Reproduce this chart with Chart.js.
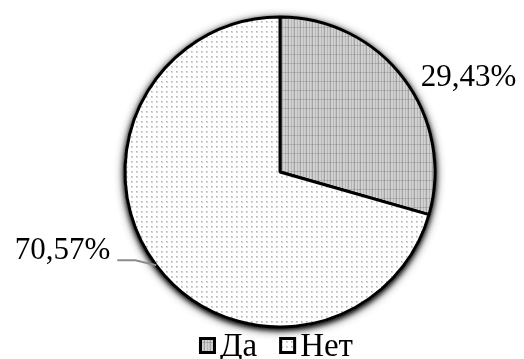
<!DOCTYPE html>
<html lang="ru">
<head>
<meta charset="utf-8">
<title>Да / Нет</title>
<script src="https://cdn.jsdelivr.net/npm/chart.js@4.4.1/dist/chart.umd.min.js"></script>
<style>
  html, body { margin: 0; padding: 0; background: #fff; }
  canvas { display: block; }
</style>
</head>
<body>
<canvas id="chart" width="524" height="359"></canvas>
<script>
// ── Données ──────────────────────────────────────────────────
const categories = ['Да', 'Нет'];
const shares     = [29.43, 70.57];

const FONT = '"Liberation Serif", "Times New Roman", serif';

// 29.43 -> "29,43%"
function fmt(v) {
  return v.toFixed(2).replace('.', ',') + '%';
}

const canvas = document.getElementById('chart');
const ctx    = canvas.getContext('2d');

// ── Motifs de remplissage (gris tramé / pointillé) ───────────
function motifDa() {
  const c = document.createElement('canvas');
  c.width = 6; c.height = 9;
  const g = c.getContext('2d');
  g.fillStyle = '#d2d2d2'; g.fillRect(0, 0, 6, 9);
  g.fillStyle = '#a4a4a4'; g.fillRect(0, 0, 1, 9);
  g.fillStyle = '#b6b6b6'; g.fillRect(3, 0, 1, 9);
  g.fillStyle = '#c4c4c4'; g.fillRect(5, 0, 1, 9);
  g.fillStyle = 'rgba(120,120,120,0.35)'; g.fillRect(0, 0, 6, 1);
  return ctx.createPattern(c, 'repeat');
}

function motifNet() {
  const c = document.createElement('canvas');
  c.width = 5; c.height = 5;
  const g = c.getContext('2d');
  g.fillStyle = '#ffffff'; g.fillRect(0, 0, 5, 5);
  g.fillStyle = '#d6d6d6'; g.fillRect(1, 1, 2, 2);
  g.fillStyle = '#b4b4b4'; g.fillRect(1, 1, 1, 1);
  return ctx.createPattern(c, 'repeat');
}

const fills = [motifDa(), motifNet()];

// ── Ombre portée autour du disque (deux passes pour la densité) ──
const ombre = {
  id: 'ombre',
  beforeDatasetsDraw(chart, args, opts) {
    const arc = chart.getDatasetMeta(0).data[0];
    if (!arc) return;
    const c = chart.ctx;
    c.save();
    c.shadowColor   = opts.color;
    c.shadowOffsetY = opts.offsetY;
    c.fillStyle = '#fff';
    opts.blurs.forEach(b => {
      c.shadowBlur = b;
      c.beginPath();
      c.arc(arc.x, arc.y, arc.outerRadius + 1, 0, Math.PI * 2);
      c.fill();
    });
    c.restore();
  }
};

// ── Étiquettes de pourcentage à l'extérieur ─────────────────
const etiquettes = {
  id: 'etiquettes',
  afterDatasetsDraw(chart, args, opts) {
    const c    = chart.ctx;
    const meta = chart.getDatasetMeta(0);
    c.save();
    c.font = `${opts.size}px ${FONT}`;
    c.textBaseline = 'alphabetic';
    meta.data.forEach((arc, i) => {
      const { x, y, startAngle, endAngle, outerRadius } =
        arc.getProps(['x', 'y', 'startAngle', 'endAngle', 'outerRadius'], true);
      const mid = (startAngle + endAngle) / 2;
      const px  = x + Math.cos(mid) * outerRadius;
      const py  = y + Math.sin(mid) * outerRadius;
      const p   = opts.placement[i];

      if (p.leader) {
        c.strokeStyle = opts.leaderColor;
        c.lineWidth   = 2;
        c.beginPath();
        c.moveTo(px + p.leader[0][0], py + p.leader[0][1]);
        c.lineTo(px + p.leader[1][0], py + p.leader[1][1]);
        c.lineTo(px, py);
        c.stroke();
      }

      c.fillStyle = '#000';
      c.textAlign = p.align;
      c.fillText(fmt(chart.data.datasets[0].data[i]), px + p.dx, py + p.dy);
    });
    c.restore();
  }
};

// ── Légende en bas (carrés tramés + texte) ───────────────────
const legendeBas = {
  id: 'legendeBas',
  afterDraw(chart, args, opts) {
    const c     = chart.ctx;
    const ds    = chart.data.datasets[0];
    const names = chart.data.labels;
    c.save();
    c.font = `${opts.size}px ${FONT}`;
    c.textBaseline = 'alphabetic';
    c.textAlign = 'left';
    const widths = names.map(t => c.measureText(t).width);
    const total  = widths.reduce((s, w) => s + opts.box + opts.gap + w, 0)
                 + opts.spacing * (names.length - 1);
    let x = opts.centerX - total / 2;
    names.forEach((t, i) => {
      c.fillStyle = ds.backgroundColor[i];
      c.fillRect(x, opts.boxTop, opts.box, opts.box);
      c.strokeStyle = '#000';
      c.lineWidth   = 3;
      c.strokeRect(x + 1.5, opts.boxTop + 1.5, opts.box - 3, opts.box - 3);
      c.fillStyle = '#000';
      c.fillText(t, x + opts.box + opts.gap, opts.baseline);
      x += opts.box + opts.gap + widths[i] + opts.spacing;
    });
    c.restore();
  }
};

// ── Graphique ────────────────────────────────────────────────
new Chart(ctx, {
  type: 'pie',
  data: {
    labels: categories,
    datasets: [{
      data           : shares,
      backgroundColor: fills,
      borderColor    : '#000',
      borderWidth    : 3,
      hoverOffset    : 0
    }]
  },
  options: {
    responsive: false,
    animation : false,
    events    : [],
    radius    : 155,
    layout    : { padding: { top: 16, bottom: 31, left: 80, right: 44 } },
    plugins: {
      legend : { display: false },
      tooltip: { enabled: false },
      ombre  : { color: 'rgba(0,0,0,0.9)', blurs: [10, 5], offsetY: 2 },
      etiquettes: {
        size: 31,
        leaderColor: '#8c8c8c',
        placement: [
          { align: 'left',  dx: 17,  dy: 7 },
          { align: 'right', dx: -46, dy: -6, leader: [[-39, -5], [-21, -5]] }
        ]
      },
      legendeBas: {
        size: 33, box: 17, gap: 4, spacing: 22,
        centerX: 276, boxTop: 337, baseline: 356
      }
    }
  },
  plugins: [ombre, etiquettes, legendeBas]
});
</script>
</body>
</html>
